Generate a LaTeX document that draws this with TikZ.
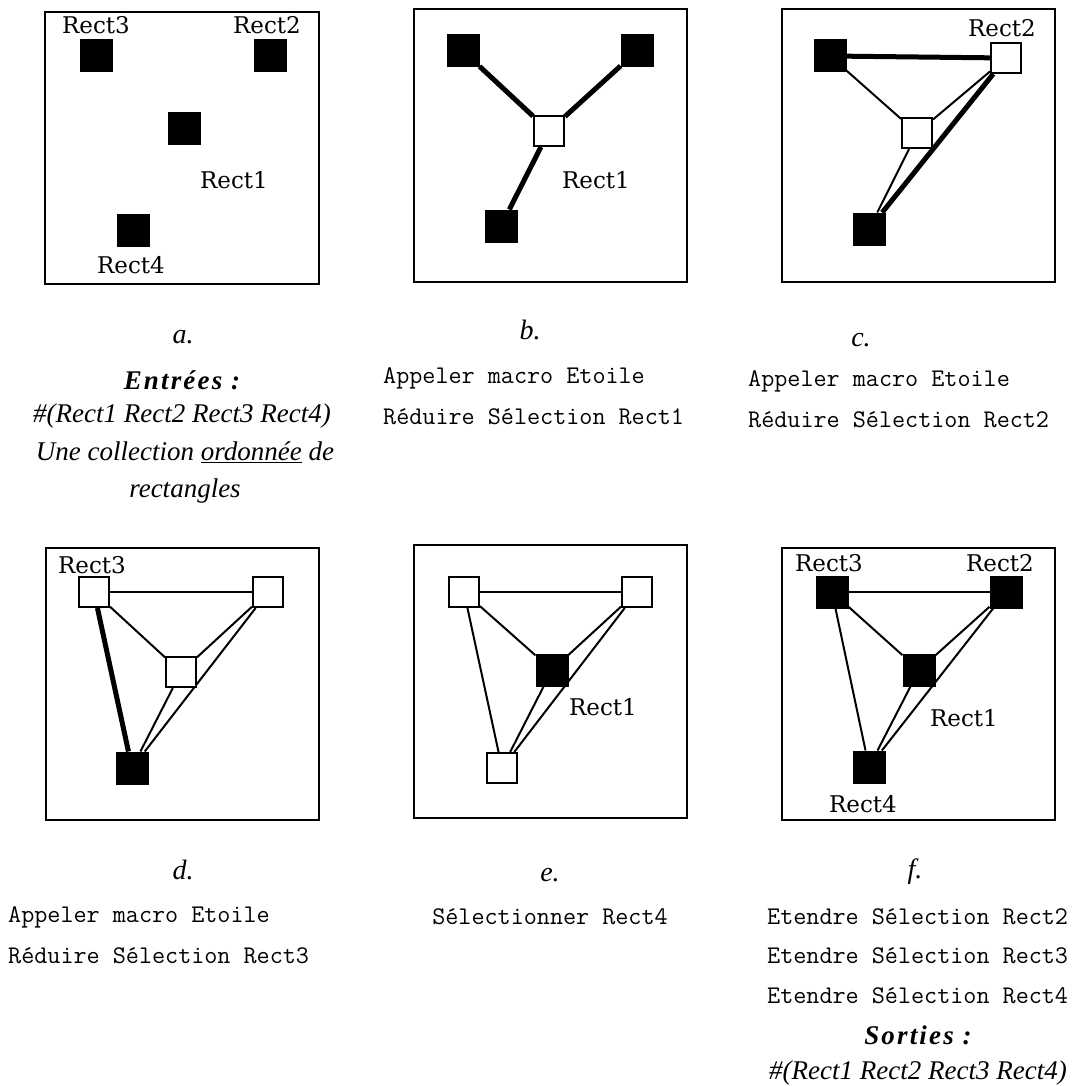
\documentclass[tikz,border=0pt]{standalone}
\usepackage{fontspec}
\setmainfont{Liberation Serif}
\newfontfamily\lblfont{DejaVu Serif}
\usetikzlibrary{positioning,backgrounds}
\tikzset{
  blk/.style={draw,fill=black,line width=2pt,minimum size=31pt,inner sep=0pt},
  wht/.style={draw,fill=white,line width=2pt,minimum size=30pt,inner sep=0pt},
  thn/.style={line width=2pt},
  thk/.style={line width=5pt},
  frm/.style={line width=2.4pt},
  lbl/.style={font=\lblfont\fontsize{23}{27}\selectfont,inner sep=0pt},
  capt/.style={font=\fontsize{28}{32}\selectfont\itshape,inner sep=0pt},
  itxt/.style={font=\fontsize{27}{32}\selectfont\itshape,inner sep=0pt},
  cmd/.style={font=\ttfamily\addfontfeature{FakeBold=1}\fontsize{25.4}{30}\selectfont,
              inner sep=0pt,anchor=west},
}

\begin{document}
\begin{tikzpicture}[x=1pt,y=-1pt]
  \useasboundingbox (0,0) rectangle (1077,1086);
  % a.
  \draw[frm] (45,12) rectangle (319,284);
  \node[blk] (a3) at (96,56) {}; \node[blk] (a2) at (270,56) {};
  \node[blk] (a1) at (184,129) {}; \node[blk] (a4) at (133,230) {};
  \node[lbl] (la3) at (96,25) {Rect3}; \node[lbl] (la2) at (267,25) {Rect2};
  \node[lbl] (la1) at (234,180) {Rect1}; \node[lbl] (la4) at (131,265) {Rect4};
  % b.
  \draw[frm] (414,9) rectangle (687,282);
  \node[blk] (b3) at (463,51) {}; \node[blk] (b2) at (637,51) {};
  \node[wht] (b1) at (549,131) {}; \node[blk] (b4) at (501,226) {};
  \node[lbl] (lb1) at (596,180) {Rect1};
  % c.
  \draw[frm] (782,9) rectangle (1055,282);
  \node[blk] (c3) at (830,56) {}; \node[wht] (c2) at (1006,58) {};
  \node[wht] (c1) at (917,133) {}; \node[blk] (c4) at (869,229) {};
  \node[lbl] (lc2) at (1002,28) {Rect2};
  % d.
  \draw[frm] (46,548) rectangle (319,820);
  \node[wht] (d3) at (94,592) {}; \node[wht] (d2) at (268,592) {};
  \node[wht] (d1) at (181,672) {}; \node[blk] (d4) at (132,768) {};
  \node[lbl] (ld3) at (92,565) {Rect3};
  % e.
  \draw[frm] (414,545) rectangle (687,818);
  \node[wht] (e3) at (464,592) {}; \node[wht] (e2) at (637,592) {};
  \node[blk] (e1) at (552,670) {}; \node[wht] (e4) at (502,768) {};
  \node[lbl] (le1) at (603,707) {Rect1};
  % f.
  \draw[frm] (782,548) rectangle (1055,820);
  \node[blk] (f3) at (832,592) {}; \node[blk] (f2) at (1006,592) {};
  \node[blk] (f1) at (919,670) {}; \node[blk] (f4) at (869,767) {};
  \node[lbl] (lf3) at (829,563) {Rect3}; \node[lbl] (lf2) at (1000,563) {Rect2};
  \node[lbl] (lf1) at (964,718) {Rect1}; \node[lbl] (lf4) at (863,804) {Rect4};

  \begin{scope}[on background layer]
    \draw[thk] (b1)--(b3); \draw[thk] (b1)--(b2); \draw[thk] (b1)--(b4);
    \draw[thk] (c3)--(c2); \draw[thn] (c3)--(c1); \draw[thn] (c2)--(c1);
    \draw[thn] (c1)--(c4); \draw[thk] (c2)--(c4);
    \draw[thn] (d3)--(d2); \draw[thn] (d3)--(d1); \draw[thn] (d2)--(d1);
    \draw[thn] (d1)--(d4); \draw[thn] (d2)--(d4); \draw[thk] (d3)--(d4);
    \draw[thn] (e3)--(e2); \draw[thn] (e3)--(e1); \draw[thn] (e2)--(e1);
    \draw[thn] (e1)--(e4); \draw[thn] (e2)--(e4); \draw[thn] (e3)--(e4);
    \draw[thn] (f3)--(f2); \draw[thn] (f3)--(f1); \draw[thn] (f2)--(f1);
    \draw[thn] (f1)--(f4); \draw[thn] (f2)--(f4); \draw[thn] (f3)--(f4);
  \end{scope}

  % captions
  \node[capt] (ta) at (183,337) {a.};
  \node[itxt] (ta1) at (182,380) {\bfseries\addfontfeature{LetterSpace=8}Entrées :};
  \node[itxt] (ta2) at (182,416) {\#(Rect1 Rect2 Rect3 Rect4)};
  \node[itxt] (ta3) at (185,452) {Une collection \underline{ordonnée} de};
  \node[itxt] (ta4) at (185,491) {rectangles};
  \node[capt] (tb) at (530,330) {b.};
  \node[cmd] (tb1) at (383,378) {Appeler macro Etoile};
  \node[cmd] (tb2) at (383,417) {Réduire Sélection Rect1};
  \node[capt] (tc) at (861,340) {c.};
  \node[cmd] (tc1) at (748,381) {Appeler macro Etoile};
  \node[cmd] (tc2) at (748,420) {Réduire Sélection Rect2};
  \node[capt] (td) at (183,870) {d.};
  \node[cmd] (td1) at (8,917) {Appeler macro Etoile};
  \node[cmd] (td2) at (8,956) {Réduire Sélection Rect3};
  \node[capt] (te) at (550,875) {e.};
  \node[cmd,anchor=center] (te1) at (550,917) {Sélectionner Rect4};
  \node[capt] (tf) at (915,872) {f.};
  \node[cmd] (tf1) at (767,917) {Etendre Sélection Rect2};
  \node[cmd] (tf2) at (767,956) {Etendre Sélection Rect3};
  \node[cmd] (tf3) at (767,996) {Etendre Sélection Rect4};
  \node[itxt] (tf4) at (918,1035) {\bfseries\addfontfeature{LetterSpace=8}Sorties :};
  \node[itxt] (tf5) at (918,1073) {\#(Rect1 Rect2 Rect3 Rect4)};
\end{tikzpicture}
\end{document}
